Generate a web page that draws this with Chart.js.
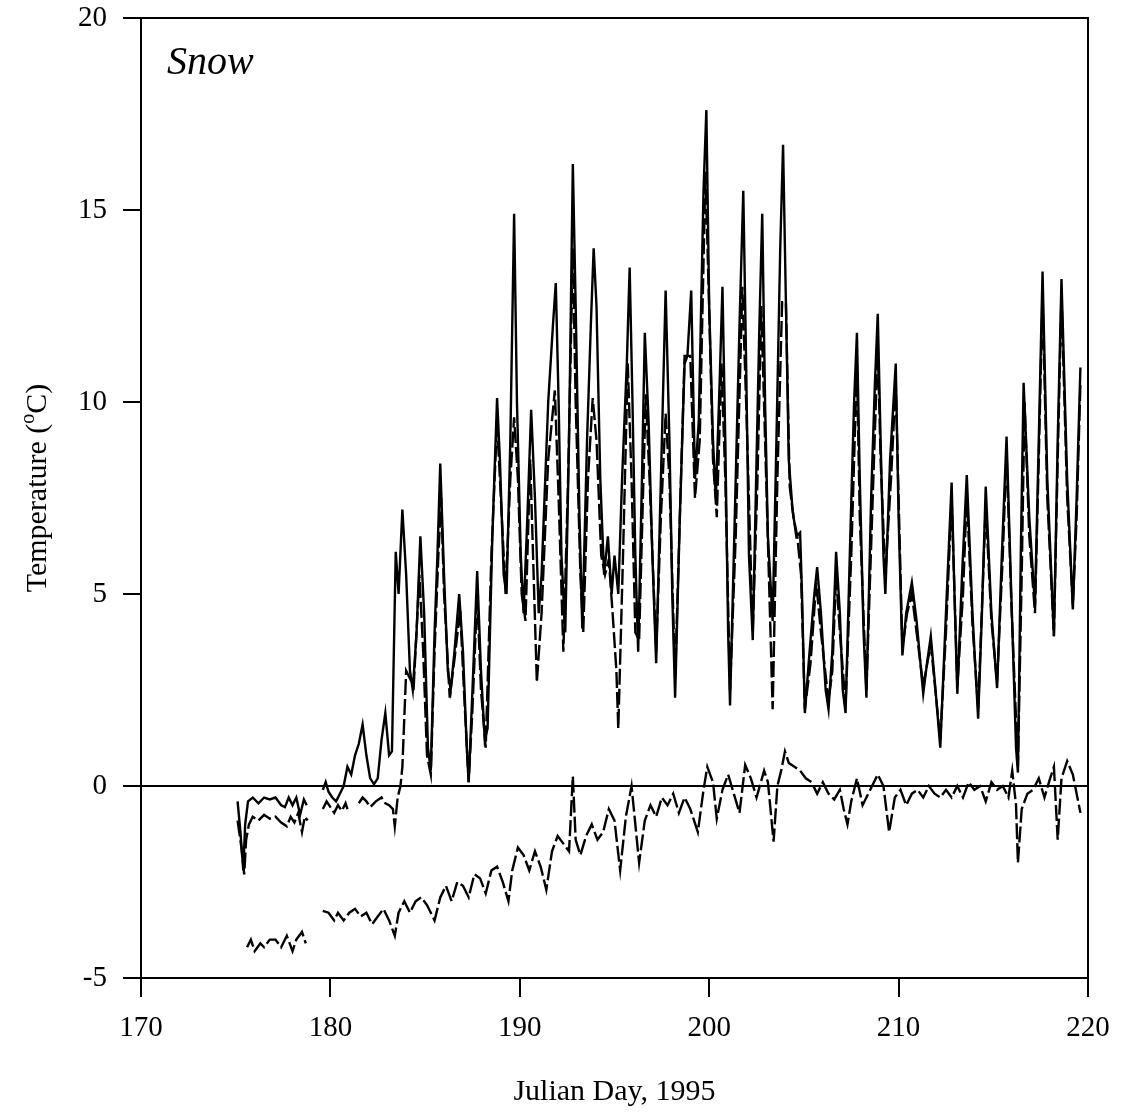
<!DOCTYPE html>
<html><head><meta charset="utf-8">
<script src="https://cdn.jsdelivr.net/npm/chart.js@4/dist/chart.umd.min.js"></script>
<style>html,body{margin:0;padding:0;background:#fff}#wrap{width:1131px;height:1112px;position:relative}</style>
</head><body><div id="wrap"><canvas id="c" width="1131" height="1112"></canvas></div>
<script>
const xTicks=[170,180,190,200,210,220];
const yTicks=[-5,0,5,10,15,20];
const panelLabel='Snow';
const xTitle='Julian Day, 1995';

// Solid series
const solidDay=[175.1,175.25,175.4,175.5,175.65,175.9,176.2,176.5,176.8,177.1,177.4,177.6,177.8,178.0,178.2,178.4,178.6,178.75,179.2,
179.6,179.75,179.9,180.1,180.3,180.5,180.7,180.9,181.1,181.3,181.5,181.7,181.9,182.1,182.3,182.5,182.7,182.9,183.1,183.25,183.45,183.6,183.8,
184.0,184.2,184.35,184.55,184.75,184.95,185.15,185.3,185.5,185.65,185.8,186.0,186.2,186.35,186.55,186.8,187.0,187.2,187.3,187.5,187.75,187.95,
188.15,188.3,188.55,188.8,188.95,189.15,189.3,189.5,189.7,189.85,190.05,190.2,190.4,190.6,190.8,191.0,191.15,191.5,191.75,191.9,192.05,192.2,
192.4,192.6,192.8,192.95,193.15,193.3,193.55,193.75,193.9,194.05,194.25,194.45,194.65,194.85,195.0,195.2,195.4,195.65,195.8,195.95,196.1,196.25,
196.45,196.6,196.8,197.0,197.2,197.45,197.7,197.9,198.05,198.2,198.45,198.7,198.85,199.05,199.25,199.45,199.7,199.85,200.0,200.2,200.35,200.55,
200.7,200.85,201.0,201.1,201.35,201.6,201.8,201.95,202.1,202.3,202.5,202.65,202.8,202.95,203.1,203.35,203.55,203.75,203.9,204.05,204.2,204.4,
204.6,204.8,204.9,205.05,205.3,205.55,205.7,205.9,206.15,206.3,206.5,206.7,206.9,207.05,207.2,207.45,207.65,207.8,207.95,208.15,208.3,208.55,
208.75,208.9,209.05,209.2,209.3,209.55,209.85,210.0,210.2,210.4,210.7,210.95,211.3,211.5,211.7,211.95,212.2,212.5,212.8,212.95,213.1,213.35,
213.6,213.9,214.2,214.4,214.6,214.9,215.2,215.45,215.7,215.95,216.2,216.3,216.45,216.6,216.9,217.2,217.4,217.6,217.85,218.2,218.4,218.6,218.9,
219.2,219.4,219.6];
const solidTemp=[-0.4,-1.2,-2.2,-1.0,-0.4,-0.3,-0.45,-0.3,-0.35,-0.3,-0.5,-0.55,-0.3,-0.5,-0.3,-0.75,-0.35,-0.5,null,
-0.1,0.1,-0.15,-0.3,-0.4,-0.2,0.0,0.5,0.3,0.8,1.1,1.6,0.8,0.2,0.05,0.2,1.2,1.9,0.8,0.9,6.1,5.0,7.2,
5.5,3.0,2.5,4.0,6.5,4.5,1.0,0.4,4.0,6.0,8.4,5.5,3.0,2.5,3.5,5.0,3.5,1.0,0.1,2.5,5.6,3.0,
1.2,1.5,6.5,10.1,8.5,5.5,5.0,9.0,14.9,10.0,6.0,4.5,7.0,9.8,7.5,4.5,5.5,10.0,12.0,13.1,10.0,6.0,
4.0,9.0,16.2,12.5,7.0,4.1,9.0,12.0,14.0,12.5,8.0,5.5,6.5,5.0,6.0,5.0,8.0,11.0,13.5,10.0,6.0,3.5,
8.0,11.8,9.5,6.0,3.2,8.0,12.9,9.0,5.0,2.3,7.0,11.0,11.2,12.9,8.0,9.5,15.5,17.6,12.5,9.0,7.5,10.5,
13.0,9.0,4.0,2.1,7.0,12.0,15.5,11.0,6.0,3.8,8.5,12.0,14.9,10.0,6.5,4.3,9.0,14.0,16.7,12.6,8.5,7.2,
6.5,6.6,5.0,1.9,3.5,5.0,5.7,4.5,2.5,2.0,3.5,6.1,4.5,2.5,1.9,6.5,10.0,11.8,8.0,4.0,2.3,7.5,
10.5,12.3,9.0,6.0,5.0,8.5,11.0,7.0,3.4,4.5,5.3,4.3,2.4,3.2,3.9,2.5,1.0,4.5,7.9,5.0,2.4,5.5,
8.1,4.5,1.75,4.5,7.8,4.5,2.55,6.0,9.1,5.0,1.0,0.35,6.0,10.5,7.0,4.7,9.0,13.4,8.0,3.9,9.0,13.2,8.0,
4.6,7.5,10.9];

// Upper dashed series
const dashDay=[175.1,175.3,175.45,175.55,175.7,175.9,176.2,176.5,176.8,177.1,177.4,177.7,177.9,178.1,178.3,178.5,178.65,178.8,179.2,
179.6,179.8,180.0,180.2,180.4,180.6,180.8,180.9,181.2,181.5,181.7,181.9,182.1,182.4,182.7,182.9,183.1,183.3,183.4,183.55,183.7,183.8,
184.0,184.2,184.4,184.7,184.9,185.1,185.3,185.5,185.7,185.85,186.0,186.3,186.6,186.85,187.05,187.3,187.5,187.75,187.95,188.2,188.5,188.8,
189.0,189.25,189.5,189.7,189.9,190.1,190.3,190.55,190.7,190.9,191.15,191.5,191.85,192.05,192.3,192.55,192.8,192.95,193.2,193.35,193.6,193.85,
194.05,194.3,194.5,194.7,194.9,195.1,195.2,195.45,195.7,195.9,196.1,196.3,196.5,196.65,196.85,197.2,197.45,197.7,197.9,198.2,198.45,198.7,
199.0,199.25,199.5,199.8,200.0,200.2,200.4,200.65,200.85,201.1,201.4,201.75,201.95,202.3,202.55,202.75,202.95,203.35,203.6,203.85,204.05,
204.25,204.45,204.65,204.85,205.05,205.35,205.65,205.9,206.3,206.5,206.7,206.9,207.2,207.5,207.8,207.95,208.3,208.6,208.9,209.05,209.3,
209.6,209.85,210.05,210.2,210.45,210.7,210.95,211.3,211.7,212.2,212.5,212.8,213.1,213.4,213.6,213.9,214.2,214.6,214.9,215.2,215.5,215.7,
215.95,216.3,216.5,216.65,216.9,217.2,217.4,217.6,217.85,218.2,218.4,218.6,218.9,219.2,219.4,219.6];
const dashTemp=[-0.9,-1.6,-2.3,-1.4,-1.0,-0.8,-0.9,-0.75,-0.85,-0.8,-0.95,-1.05,-0.8,-0.95,-0.7,-1.2,-0.8,-0.9,null,
-0.6,-0.4,-0.55,-0.7,-0.5,-0.65,-0.45,-0.6,null,-0.45,-0.3,-0.4,-0.55,-0.4,-0.3,-0.45,-0.5,-0.6,-1.05,-0.3,0.0,0.5,
3.0,2.8,2.6,5.5,3.5,0.8,0.3,3.5,6.0,7.5,5.0,2.3,3.5,4.6,2.5,0.1,2.0,5.0,2.5,1.0,6.0,9.5,
7.5,5.0,8.0,9.6,8.0,5.0,4.3,8.5,6.0,2.7,4.5,8.5,10.3,7.5,3.5,8.0,14.0,10.0,5.5,4.0,8.0,10.1,
9.0,6.0,5.5,5.9,4.5,3.0,1.5,6.0,11.0,8.0,4.0,3.8,7.5,10.2,8.0,3.5,7.0,9.7,8.0,2.8,7.0,11.2,
11.2,7.5,9.0,16.0,12.4,8.5,7.0,11.0,8.0,2.5,6.5,13.0,10.0,4.0,8.0,12.5,9.0,2.0,8.0,12.6,12.6,
7.8,7.0,6.5,5.5,2.0,3.2,5.3,4.0,2.2,3.0,5.5,4.0,2.1,6.0,11.0,7.0,2.5,7.0,11.5,8.5,5.5,
8.0,10.5,6.5,3.6,4.5,5.0,4.0,2.6,3.7,1.2,4.0,7.5,2.6,5.0,7.6,4.2,2.0,7.3,4.3,2.7,6.0,8.7,
4.8,0.5,5.5,10.0,6.5,4.5,8.5,12.8,7.5,3.9,8.5,12.8,7.5,4.7,7.0,10.5];

// Deep dashed series
const deepDay=[175.6,175.8,176.0,176.3,176.5,176.8,177.1,177.4,177.7,178.0,178.2,178.5,178.7,179.2,
179.6,179.9,180.2,180.4,180.7,181.0,181.3,181.6,181.9,182.2,182.5,182.8,183.1,183.4,183.6,183.9,184.2,184.5,184.8,185.1,185.5,185.8,
186.1,186.4,186.7,187.0,187.3,187.6,187.9,188.2,188.5,188.8,189.1,189.4,189.6,189.9,190.2,190.5,190.8,191.1,191.4,191.7,192.0,192.3,
192.6,192.8,192.95,193.2,193.5,193.8,194.1,194.4,194.7,195.0,195.3,195.6,195.9,196.1,196.3,196.6,196.9,197.2,197.5,197.8,198.1,198.4,
198.7,199.0,199.4,199.7,199.9,200.2,200.4,200.7,201.0,201.3,201.6,201.9,202.2,202.5,202.9,203.1,203.4,203.6,203.8,204.0,204.2,204.5,
204.8,205.1,205.4,205.7,206.0,206.3,206.6,206.9,207.1,207.3,207.5,207.8,208.1,208.4,208.9,209.2,209.5,209.8,210.1,210.4,210.7,211.0,
211.3,211.6,211.9,212.2,212.5,212.8,213.1,213.4,213.7,214.0,214.3,214.6,214.9,215.2,215.5,215.8,216.0,216.2,216.3,216.5,216.8,217.1,
217.4,217.7,218.0,218.2,218.4,218.6,218.9,219.2,219.4,219.6];
const deepTemp=[-4.2,-4.0,-4.3,-4.1,-4.2,-4.0,-4.0,-4.2,-3.9,-4.3,-4.0,-3.8,-4.1,null,
-3.25,-3.3,-3.5,-3.3,-3.5,-3.3,-3.2,-3.4,-3.3,-3.6,-3.4,-3.2,-3.5,-3.9,-3.3,-3.0,-3.3,-3.0,-2.9,-3.1,-3.5,-2.9,
-2.6,-3.0,-2.5,-2.6,-2.9,-2.3,-2.4,-2.8,-2.2,-2.1,-2.5,-3.0,-2.2,-1.6,-1.8,-2.2,-1.7,-2.1,-2.7,-1.7,-1.3,-1.5,
-1.7,0.25,-1.4,-1.8,-1.3,-1.0,-1.4,-1.2,-0.6,-0.9,-2.2,-0.8,0.0,-1.0,-2.0,-0.9,-0.5,-0.8,-0.3,-0.5,-0.2,-0.7,
-0.3,-0.6,-1.2,-0.1,0.5,0.1,-0.85,-0.1,0.3,-0.2,-0.7,0.55,0.2,-0.3,0.4,0.1,-1.45,0.0,0.4,0.9,0.6,0.5,
0.4,0.2,0.1,-0.2,0.1,-0.2,-0.35,-0.1,-0.6,-1.0,-0.4,0.2,-0.5,-0.2,0.3,0.0,-1.2,-0.3,-0.1,-0.5,-0.2,-0.1,
-0.3,0.0,-0.2,-0.3,-0.1,-0.3,0.0,-0.3,0.1,-0.1,0.0,-0.4,0.1,-0.1,0.0,-0.3,0.4,-0.5,-2.0,-0.6,-0.2,-0.1,
0.2,-0.3,0.2,0.5,-1.4,0.2,0.65,0.3,-0.2,-0.7];

const toXY=(d,v)=>d.map((x,i)=>({x:x,y:v[i]}));
const SERIF='"Liberation Serif","Times New Roman",serif';

const deco={
  id:'deco',
  afterDraw(chart){
    const {ctx,chartArea:a}=chart;
    ctx.save();
    ctx.strokeStyle='#000';ctx.lineWidth=2;
    ctx.strokeRect(a.left,a.top,a.right-a.left,a.bottom-a.top);
    ctx.fillStyle='#000';
    // panel label
    ctx.font='italic 40px '+SERIF;
    ctx.textAlign='left';ctx.textBaseline='alphabetic';
    ctx.fillText(panelLabel,a.left+26,a.top+56);
    // x title
    ctx.font='30px '+SERIF;
    ctx.textAlign='center';
    ctx.fillText(xTitle,(a.left+a.right)/2,a.bottom+122);
    // y title with superscript
    ctx.translate(a.left-95,(a.top+a.bottom)/2-10);
    ctx.rotate(-Math.PI/2);
    const p1='Temperature (',p2='o',p3='C)';
    ctx.font='30px '+SERIF;
    const w1=ctx.measureText(p1).width, w3=ctx.measureText(p3).width;
    ctx.font='20px '+SERIF;
    const w2=ctx.measureText(p2).width;
    const tot=w1+w2+w3;
    let x0=-tot/2;
    ctx.textAlign='left';
    ctx.font='30px '+SERIF; ctx.fillText(p1,x0,0);
    ctx.font='20px '+SERIF; ctx.fillText(p2,x0+w1,-12);
    ctx.font='30px '+SERIF; ctx.fillText(p3,x0+w1+w2,0);
    ctx.restore();
  }
};

const common={borderColor:'#000',backgroundColor:'#000',pointRadius:0,borderWidth:2.4,tension:0,spanGaps:false,fill:false};
new Chart(document.getElementById('c'),{
  type:'line',
  data:{datasets:[
    Object.assign({label:'deep',data:toXY(deepDay,deepTemp),borderDash:[16,4]},common),
    Object.assign({label:'dashed',data:toXY(dashDay,dashTemp),borderDash:[16,4]},common),
    Object.assign({label:'solid',data:toXY(solidDay,solidTemp)},common)
  ]},
  options:{
    responsive:false,animation:false,devicePixelRatio:1,
    layout:{padding:{top:18,right:43,left:0,bottom:0}},
    plugins:{legend:{display:false},tooltip:{enabled:false}},
    scales:{
      x:{type:'linear',min:170,max:220,
        afterBuildTicks(s){s.ticks=xTicks.map(v=>({value:v}));},
        afterFit(s){s.height=134;s.paddingLeft=0;s.paddingRight=0;},
        grid:{drawOnChartArea:false,color:'#000',tickColor:'#000',tickLength:19,lineWidth:2},
        border:{display:true,color:'#000',width:2},
        ticks:{color:'#000',font:{family:SERIF,size:29},padding:14,maxRotation:0,autoSkip:false}
      },
      y:{type:'linear',min:-5,max:20,
        afterBuildTicks(s){s.ticks=yTicks.map(v=>({value:v}));},
        afterFit(s){s.width=141;s.paddingTop=0;s.paddingBottom=0;},
        grid:{drawOnChartArea:true,color:c=>(c.tick&&c.tick.value===0)?'#000':'rgba(0,0,0,0)',tickColor:'#000',tickLength:18,lineWidth:2},
        border:{display:true,color:'#000',width:2},
        ticks:{color:'#000',font:{family:SERIF,size:29},padding:16,autoSkip:false}
      }
    }
  },
  plugins:[deco]
});
</script>
</body></html>
